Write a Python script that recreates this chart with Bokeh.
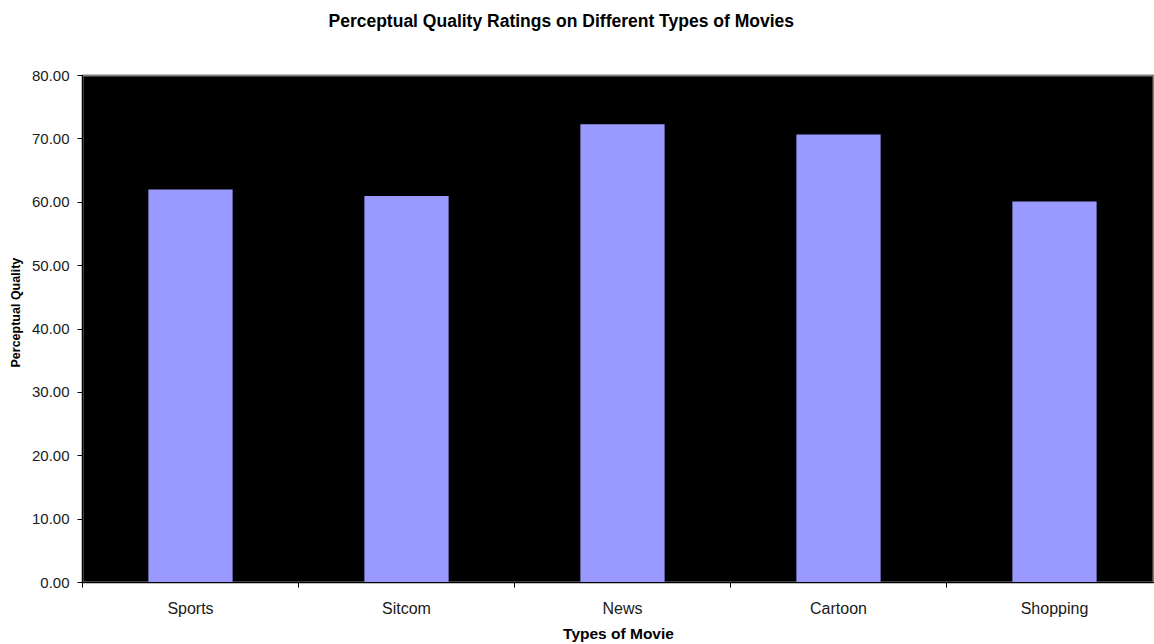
from bokeh.plotting import figure
from bokeh.models import Range1d, FixedTicker, NumeralTickFormatter, Title
from bokeh.embed import file_html
from bokeh.resources import INLINE
import numpy as np

# Movie categories and their mean perceptual quality ratings
categories = ["Sports", "Sitcom", "News", "Cartoon", "Shopping"]
ratings = [62.0, 61.0, 72.3, 70.7, 60.1]
y_ticks = [0, 10, 20, 30, 40, 50, 60, 70, 80]

FONT = "Liberation Sans"
BAR_COLOR = "#9999FF"

centers = np.arange(len(categories)) + 0.5

p = figure(
    width=1154, height=644,
    output_backend="svg", toolbar_location=None,
    x_range=Range1d(0, 1072 / 216), y_range=Range1d(0, 80),
    min_border_left=82, min_border_right=0,
    min_border_top=75, min_border_bottom=59,
    background_fill_color="black", border_fill_color="white",
    outline_line_color="#808080", outline_line_width=2,
)

p.vbar(x=centers, top=ratings, width=0.39, fill_color=BAR_COLOR, line_color=None)

# blank strip that keeps the title clear of the plot area
spacer = Title(text=" ", text_font_size="1px", standoff=34)
p.add_layout(spacer, "above")

title = Title(text="Perceptual Quality Ratings on Different Types of Movies",
              text_font=FONT, text_font_size="17.5px", text_font_style="bold",
              text_color="black", align="left", offset=246, standoff=16)
p.add_layout(title, "above")

# vertical axis title, placed along the left edge
ytitle = Title(text="Perceptual Quality", text_font=FONT, text_font_size="12.5px",
               text_font_style="bold", text_color="black",
               align="left", offset=215, standoff=12)
p.add_layout(ytitle, "left")

p.xgrid.visible = False
p.ygrid.visible = False

# x axis: ticks at category boundaries, labels at category centres
xa = p.xaxis[0]
xa.ticker = FixedTicker(ticks=list(centers), minor_ticks=list(range(len(categories) + 1)))
xa.major_label_overrides = {float(c): name for c, name in zip(centers, categories)}
xa.major_tick_out = 0
xa.major_tick_in = 0
xa.minor_tick_out = 5
xa.minor_tick_in = 0
xa.minor_tick_line_color = "black"
xa.axis_line_color = "black"
xa.major_label_text_font = FONT
xa.major_label_text_font_size = "16px"
xa.major_label_text_color = "#1a1a1a"
xa.major_label_standoff = 12
xa.axis_label = "Types of Movie"
xa.axis_label_text_font = FONT
xa.axis_label_text_font_size = "15.5px"
xa.axis_label_text_font_style = "bold"
xa.axis_label_text_color = "black"
xa.axis_label_standoff = 5

ya = p.yaxis[0]
ya.ticker = FixedTicker(ticks=y_ticks)
ya.formatter = NumeralTickFormatter(format="0.00")
ya.major_tick_out = 5
ya.major_tick_in = 0
ya.minor_tick_out = 0
ya.minor_tick_in = 0
ya.axis_line_color = "black"
ya.major_tick_line_color = "black"
ya.major_label_text_font = FONT
ya.major_label_text_font_size = "15px"
ya.major_label_text_color = "#1a1a1a"
ya.major_label_standoff = 8

open("out.html", "w").write(file_html(p, INLINE))
